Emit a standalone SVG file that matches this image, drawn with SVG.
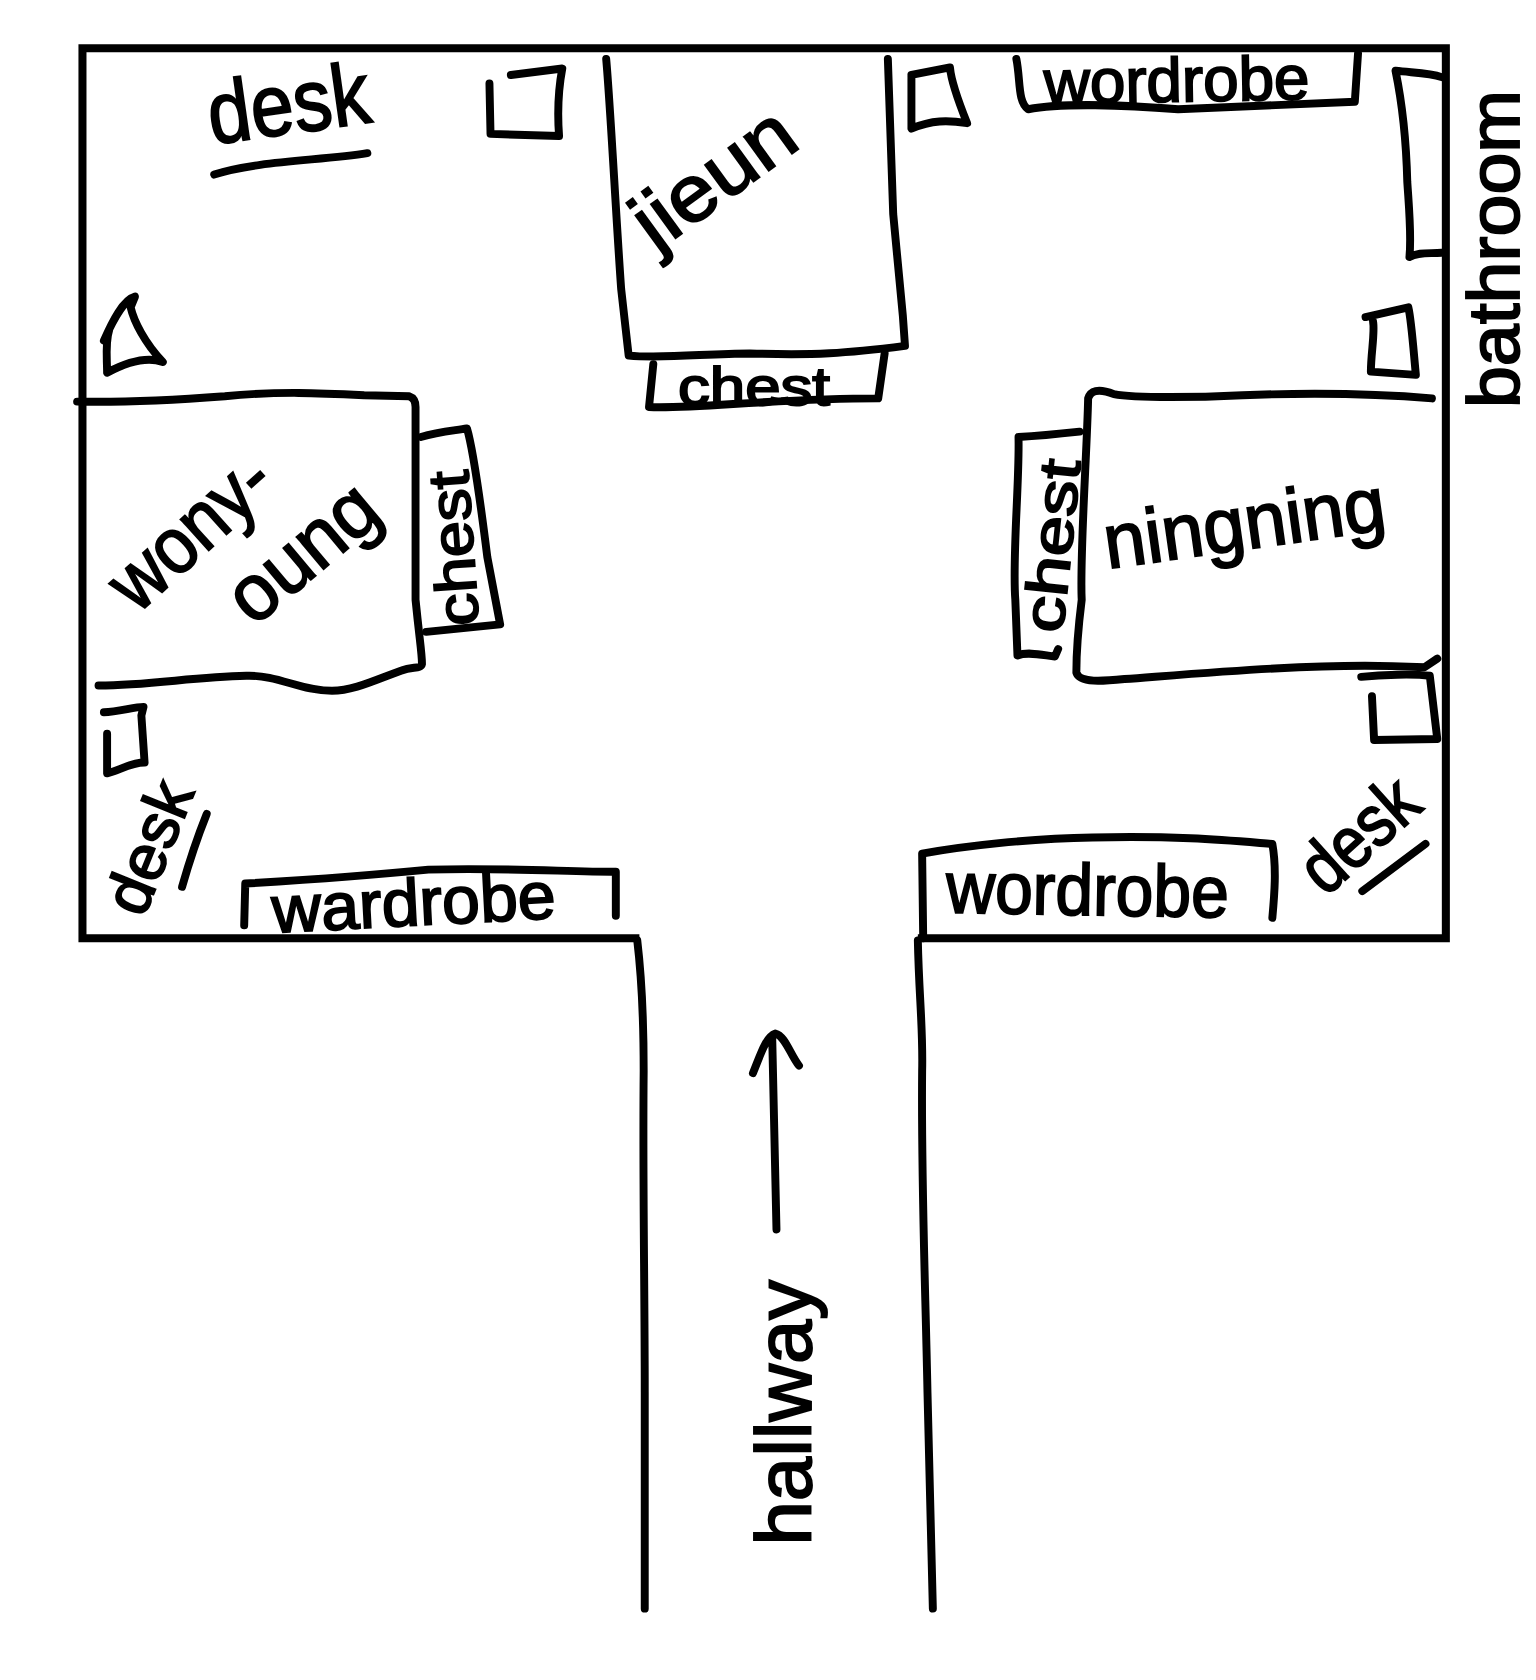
<svg xmlns="http://www.w3.org/2000/svg" width="1536" height="1680" viewBox="0 0 1536 1680">
<style>
.l{fill:none;stroke:#000;stroke-width:7.4;stroke-linecap:round;stroke-linejoin:round}
.w{fill:none;stroke:#000;stroke-width:7.5;stroke-linejoin:miter;stroke-linecap:butt}
text{font-family:"Liberation Sans",Arial,sans-serif;fill:#000;stroke:#000;stroke-width:1.8}
</style>
<rect width="1536" height="1680" fill="#fff"/>
<g transform="scale(1.071)">
<g id="walls">
<path class="w" d="M597 876H77V45H1350V876H857"/>
<path class="l" d="M595 878C600 920 601 960 601 1000C600 1100 602 1200 602 1300L602 1502"/>
<path class="l" d="M857 878C858 930 862 960 861 1000C860 1100 864 1200 866 1300L871 1502"/>
</g>
<g id="arrow">
<path class="l" d="M725 1148L721 968M703 1002C710 985 715 968 724 965C733 967 738 985 746 995"/>
</g>
<g id="hallway-label"><text transform="translate(757 1443) rotate(-90)" font-size="72" textLength="248" lengthAdjust="spacingAndGlyphs">hallway</text></g>
<g id="bathroom-label"><text transform="translate(1418 381) rotate(-90)" font-size="68" textLength="297" lengthAdjust="spacingAndGlyphs">bathroom</text></g>
<g id="desk-top-left">
<text transform="translate(198 135) rotate(-8)" font-size="82" textLength="152" lengthAdjust="spacingAndGlyphs">desk</text>
<path class="l" d="M200 163C240 150 300 150 343 143"/>
<path class="l" d="M457 78L458 125L522 127C520 100 522 80 525 64L477 70"/>
</g>
<g id="chair-left"><path class="l" d="M97 318C105 300 115 280 126 277L122 287C125 300 135 320 152 338C135 332 115 340 100 348C100 335 98 320 102 308"/></g>
<g id="jieun">
<path class="l" d="M566 55C570 100 575 200 580 270L587 332C620 335 660 330 700 330C760 332 790 330 845 323L843 295L834 200L829 55"/>
<text transform="translate(612 236) rotate(-36)" font-size="74" textLength="170" lengthAdjust="spacingAndGlyphs">jieun</text>
</g>
<g id="chest-top">
<path class="l" d="M610 340L606 380C650 382 720 372 820 372L826 330"/>
<text transform="translate(633 378)" font-size="50" textLength="142" lengthAdjust="spacingAndGlyphs">chest</text>
</g>
<g id="chair-top"><path class="l" d="M851 70L887 63C888 75 893 90 903 115C885 112 870 112 851 120L851 70"/></g>
<g id="wardrobe-top">
<path class="l" d="M949 55C953 75 950 95 960 102C990 96 1050 98 1100 102C1150 100 1200 98 1265 95L1268 50"/>
<text transform="translate(975 97) rotate(-1)" font-size="58" textLength="248" lengthAdjust="spacingAndGlyphs">wordrobe</text>
</g>
<g id="bathroom-door"><path class="l" d="M1346 72C1335 68 1320 68 1303 66C1310 100 1313 130 1314 170C1316 200 1318 220 1316 240C1325 235 1335 237 1346 236"/></g>
<g id="chair-right"><path class="l" d="M1275 296L1315 287C1318 300 1320 330 1322 350L1280 347C1280 330 1284 310 1282 300"/></g>
<g id="ningning">
<path class="l" d="M1337 372C1290 368 1240 366 1160 369C1120 371 1060 372 1040 368C1025 362 1018 365 1016 372C1015 420 1008 520 1010 560C1005 600 1005 620 1005 628C1008 638 1030 636 1050 634C1130 628 1220 620 1300 622L1330 623L1342 615"/>
<text transform="translate(1034 531) rotate(-8)" font-size="72" textLength="265" lengthAdjust="spacingAndGlyphs">ningning</text>
</g>
<g id="chest-right">
<path class="l" d="M1008 403C990 405 970 407 951 408C952 450 945 520 948 560L950 612C960 608 975 612 985 613L988 606"/>
<text transform="translate(992 592) rotate(-84)" font-size="54" textLength="162" lengthAdjust="spacingAndGlyphs">chest</text>
</g>
<g id="chair-bottom-right"><path class="l" d="M1271 632C1290 630 1320 629 1335 631L1342 690L1283 691L1281 650"/></g>
<g id="wardrobe-bottom-right">
<path class="l" d="M862 876L861 797C900 790 960 783 1020 782C1100 780 1150 785 1188 788C1192 810 1190 835 1188 857"/>
<text transform="translate(883 852) rotate(1)" font-size="68" textLength="264" lengthAdjust="spacingAndGlyphs">wordrobe</text>
</g>
<g id="desk-bottom-right">
<text transform="translate(1238 838) rotate(-42)" font-size="68" textLength="124" lengthAdjust="spacingAndGlyphs">desk</text>
<path class="l" d="M1272 832L1331 788"/>
</g>
<g id="wonyoung">
<path class="l" d="M72 375C120 376 170 373 210 370C260 365 300 367 340 369L382 370Q388 372 388 380L388 560C392 600 394 610 394 620C393 625 385 622 375 626C350 635 330 645 310 645C280 645 260 630 230 631C180 632 140 640 92 640"/>
<text transform="translate(128 574) rotate(-42)" font-size="74" textLength="178" lengthAdjust="spacingAndGlyphs">wony-</text>
<text transform="translate(237 586) rotate(-40)" font-size="74" textLength="160" lengthAdjust="spacingAndGlyphs">oung</text>
</g>
<g id="chest-left">
<path class="l" d="M393 408C410 403 425 402 436 400C442 420 450 480 455 520L467 583L398 590"/>
<text transform="translate(447 583) rotate(-94)" font-size="54" textLength="145" lengthAdjust="spacingAndGlyphs">chest</text>
</g>
<g id="chair-bottom-left"><path class="l" d="M97 665C110 665 125 660 134 660L132 668L135 712C122 712 110 720 100 722L100 685"/></g>
<g id="desk-bottom-left">
<text transform="translate(134 858) rotate(-68)" font-size="60" textLength="128" lengthAdjust="spacingAndGlyphs">desk</text>
<path class="l" d="M170 828C178 800 185 780 193 760"/>
</g>
<g id="wardrobe-bottom-left">
<path class="l" d="M228 864L229 825C280 822 340 818 400 812C470 810 530 814 575 814L575 855"/>
<text transform="translate(255 871) rotate(-3)" font-size="62" textLength="265" lengthAdjust="spacingAndGlyphs">wardrobe</text>
</g>
</g>
</svg>
